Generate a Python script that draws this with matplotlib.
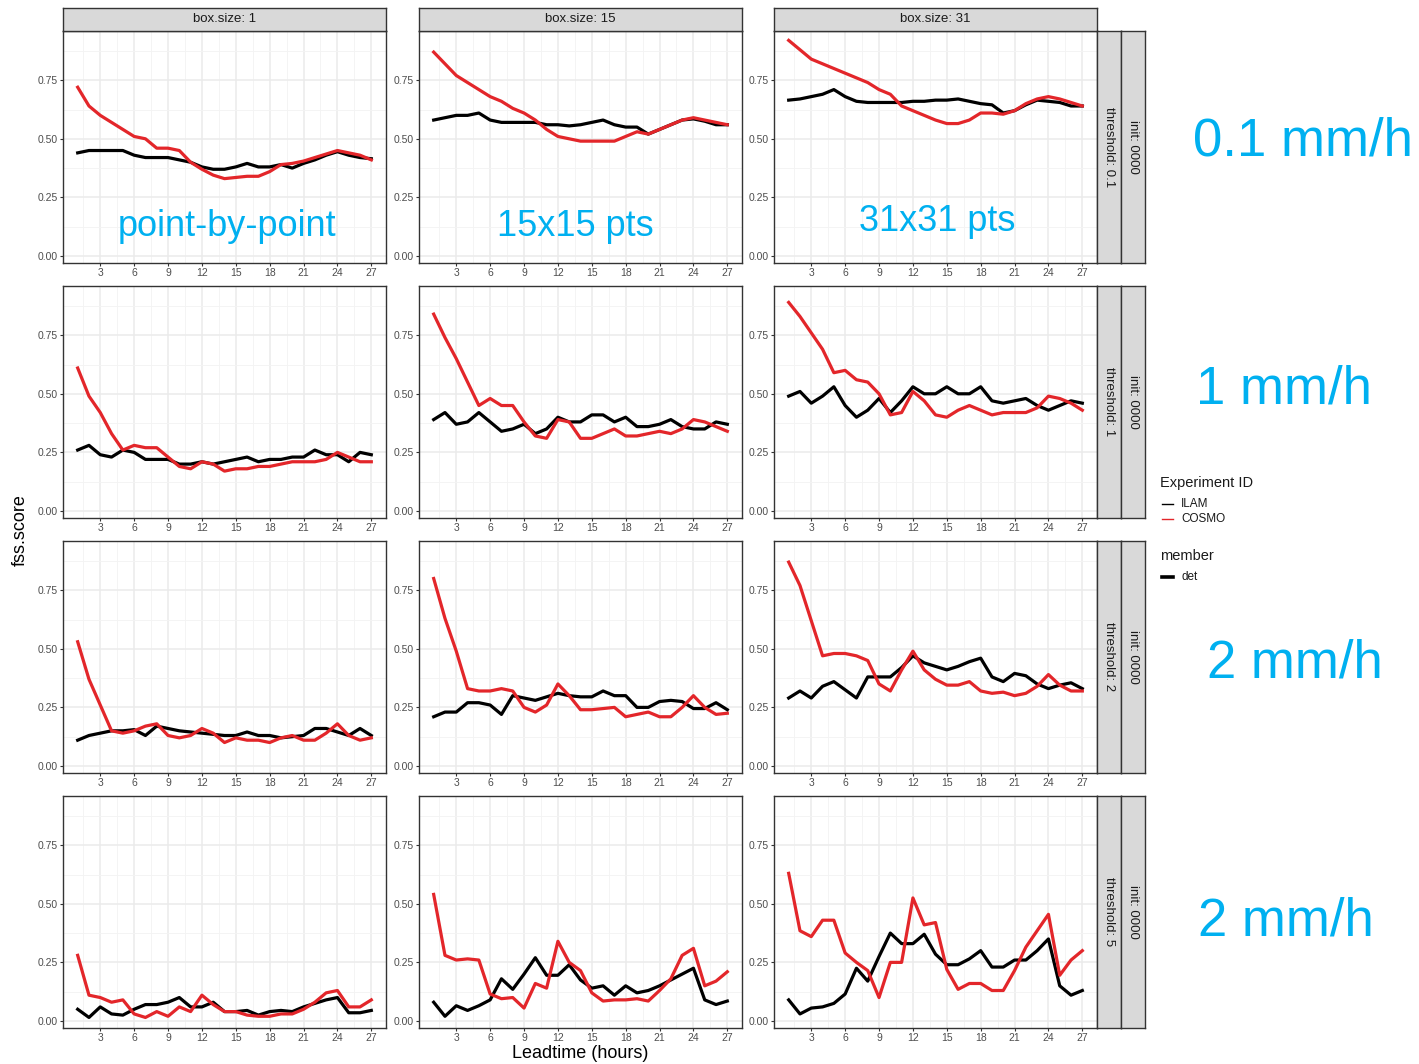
import numpy as np
import matplotlib
matplotlib.use("Agg")
import matplotlib.pyplot as plt
from matplotlib.lines import Line2D

plt.rcParams["font.family"] = ["Liberation Sans", "DejaVu Sans"]

# ---------------------------------------------------------------- data
leadtime = list(range(1, 28))
box_sizes = [1, 15, 31]
thresholds = [0.1, 1, 2, 5]
experiments = ["ILAM", "COSMO"]
box_notes = ["point-by-point", "15x15 pts", "31x31 pts"]
threshold_notes = ["0.1 mm/h", "1 mm/h", "2 mm/h", "2 mm/h"]
y_breaks = [0.0, 0.25, 0.50, 0.75]
x_breaks = list(range(3, 28, 3))

# threshold 0.1
ilam_t01_b1 = [0.44, 0.45, 0.45, 0.45, 0.45, 0.43, 0.42, 0.42, 0.42, 0.41, 0.40, 0.38, 0.37, 0.37,
               0.38, 0.395, 0.38, 0.38, 0.39, 0.375, 0.395, 0.41, 0.43, 0.445, 0.43, 0.42, 0.415]
cosmo_t01_b1 = [0.72, 0.64, 0.60, 0.57, 0.54, 0.51, 0.50, 0.46, 0.46, 0.45, 0.40, 0.37, 0.345, 0.33,
                0.335, 0.34, 0.34, 0.36, 0.39, 0.395, 0.405, 0.42, 0.435, 0.45, 0.44, 0.43, 0.41]
ilam_t01_b15 = [0.58, 0.59, 0.60, 0.60, 0.61, 0.58, 0.57, 0.57, 0.57, 0.57, 0.56, 0.56, 0.555, 0.56,
                0.57, 0.58, 0.56, 0.55, 0.55, 0.52, 0.54, 0.56, 0.58, 0.585, 0.575, 0.56, 0.56]
cosmo_t01_b15 = [0.87, 0.82, 0.77, 0.74, 0.71, 0.68, 0.66, 0.63, 0.61, 0.58, 0.54, 0.51, 0.50, 0.49,
                 0.49, 0.49, 0.49, 0.51, 0.53, 0.52, 0.54, 0.56, 0.58, 0.59, 0.58, 0.57, 0.56]
ilam_t01_b31 = [0.665, 0.67, 0.68, 0.69, 0.71, 0.68, 0.66, 0.655, 0.655, 0.655, 0.655, 0.66, 0.66, 0.665,
                0.665, 0.67, 0.66, 0.65, 0.645, 0.61, 0.62, 0.645, 0.665, 0.66, 0.655, 0.64, 0.64]
cosmo_t01_b31 = [0.92, 0.88, 0.84, 0.82, 0.80, 0.78, 0.76, 0.74, 0.71, 0.69, 0.64, 0.62, 0.60, 0.58,
                 0.565, 0.565, 0.58, 0.61, 0.61, 0.605, 0.62, 0.65, 0.67, 0.68, 0.67, 0.655, 0.64]

# threshold 1
ilam_t1_b1 = [0.26, 0.28, 0.24, 0.23, 0.26, 0.25, 0.22, 0.22, 0.22, 0.20, 0.20, 0.21, 0.20, 0.21,
              0.22, 0.23, 0.21, 0.22, 0.22, 0.23, 0.23, 0.26, 0.24, 0.24, 0.21, 0.25, 0.24]
cosmo_t1_b1 = [0.61, 0.49, 0.42, 0.33, 0.26, 0.28, 0.27, 0.27, 0.23, 0.19, 0.18, 0.21, 0.20, 0.17,
               0.18, 0.18, 0.19, 0.19, 0.20, 0.21, 0.21, 0.21, 0.22, 0.25, 0.23, 0.21, 0.21]
ilam_t1_b15 = [0.39, 0.42, 0.37, 0.38, 0.42, 0.38, 0.34, 0.35, 0.37, 0.33, 0.35, 0.40, 0.38, 0.38,
               0.41, 0.41, 0.38, 0.40, 0.36, 0.36, 0.37, 0.39, 0.36, 0.35, 0.35, 0.38, 0.37]
cosmo_t1_b15 = [0.84, 0.74, 0.65, 0.55, 0.45, 0.48, 0.45, 0.45, 0.38, 0.32, 0.31, 0.39, 0.38, 0.31,
                0.31, 0.33, 0.35, 0.32, 0.32, 0.33, 0.34, 0.33, 0.35, 0.39, 0.38, 0.36, 0.34]
ilam_t1_b31 = [0.49, 0.51, 0.46, 0.49, 0.53, 0.45, 0.40, 0.43, 0.48, 0.42, 0.47, 0.53, 0.50, 0.50,
               0.53, 0.50, 0.50, 0.53, 0.47, 0.46, 0.47, 0.48, 0.45, 0.43, 0.45, 0.47, 0.46]
cosmo_t1_b31 = [0.89, 0.83, 0.76, 0.69, 0.59, 0.60, 0.56, 0.55, 0.50, 0.41, 0.42, 0.51, 0.47, 0.41,
                0.40, 0.43, 0.45, 0.43, 0.41, 0.42, 0.42, 0.42, 0.44, 0.49, 0.48, 0.46, 0.43]

# threshold 2
ilam_t2_b1 = [0.11, 0.13, 0.14, 0.15, 0.15, 0.155, 0.13, 0.17, 0.16, 0.15, 0.145, 0.14, 0.135, 0.13,
              0.13, 0.145, 0.13, 0.13, 0.12, 0.125, 0.13, 0.16, 0.16, 0.145, 0.13, 0.16, 0.13]
cosmo_t2_b1 = [0.53, 0.37, 0.26, 0.15, 0.14, 0.15, 0.17, 0.18, 0.13, 0.12, 0.13, 0.16, 0.14, 0.10,
               0.12, 0.11, 0.11, 0.10, 0.12, 0.13, 0.11, 0.11, 0.14, 0.18, 0.13, 0.11, 0.12]
ilam_t2_b15 = [0.21, 0.23, 0.23, 0.27, 0.27, 0.26, 0.22, 0.30, 0.29, 0.28, 0.295, 0.31, 0.30, 0.295,
               0.295, 0.32, 0.30, 0.30, 0.25, 0.25, 0.275, 0.28, 0.275, 0.245, 0.245, 0.27, 0.24]
cosmo_t2_b15 = [0.80, 0.63, 0.49, 0.33, 0.32, 0.32, 0.33, 0.32, 0.25, 0.23, 0.26, 0.35, 0.30, 0.24,
                0.24, 0.245, 0.25, 0.21, 0.22, 0.23, 0.21, 0.21, 0.25, 0.30, 0.25, 0.22, 0.225]
ilam_t2_b31 = [0.29, 0.32, 0.29, 0.34, 0.36, 0.325, 0.29, 0.38, 0.38, 0.38, 0.42, 0.47, 0.44, 0.425,
               0.41, 0.425, 0.445, 0.46, 0.38, 0.36, 0.395, 0.385, 0.35, 0.33, 0.345, 0.355, 0.33]
cosmo_t2_b31 = [0.87, 0.77, 0.62, 0.47, 0.48, 0.48, 0.47, 0.45, 0.35, 0.32, 0.41, 0.49, 0.41, 0.37,
                0.345, 0.345, 0.36, 0.32, 0.31, 0.315, 0.30, 0.31, 0.34, 0.39, 0.345, 0.32, 0.32]

# threshold 5
ilam_t5_b1 = [0.05, 0.015, 0.06, 0.03, 0.025, 0.05, 0.07, 0.07, 0.08, 0.10, 0.06, 0.06, 0.08, 0.04,
              0.04, 0.045, 0.025, 0.04, 0.045, 0.04, 0.06, 0.075, 0.09, 0.10, 0.035, 0.035, 0.045]
cosmo_t5_b1 = [0.28, 0.11, 0.10, 0.08, 0.09, 0.03, 0.015, 0.04, 0.02, 0.06, 0.04, 0.11, 0.07, 0.04,
               0.04, 0.025, 0.02, 0.02, 0.03, 0.03, 0.05, 0.08, 0.12, 0.13, 0.06, 0.06, 0.09]
ilam_t5_b15 = [0.08, 0.02, 0.065, 0.045, 0.065, 0.09, 0.18, 0.135, 0.20, 0.27, 0.195, 0.195, 0.24, 0.175,
               0.14, 0.15, 0.11, 0.15, 0.12, 0.13, 0.15, 0.175, 0.20, 0.225, 0.09, 0.07, 0.085]
cosmo_t5_b15 = [0.54, 0.28, 0.26, 0.265, 0.26, 0.115, 0.095, 0.10, 0.055, 0.16, 0.14, 0.34, 0.25, 0.215,
                0.12, 0.085, 0.09, 0.09, 0.095, 0.085, 0.13, 0.18, 0.28, 0.31, 0.15, 0.17, 0.21]
ilam_t5_b31 = [0.09, 0.03, 0.055, 0.06, 0.075, 0.115, 0.225, 0.17, 0.275, 0.375, 0.33, 0.33, 0.37, 0.285,
               0.24, 0.24, 0.265, 0.30, 0.23, 0.23, 0.26, 0.26, 0.30, 0.35, 0.15, 0.11, 0.13]
cosmo_t5_b31 = [0.63, 0.385, 0.36, 0.43, 0.43, 0.29, 0.25, 0.215, 0.10, 0.25, 0.25, 0.525, 0.41, 0.42,
                0.22, 0.135, 0.16, 0.16, 0.13, 0.13, 0.215, 0.315, 0.385, 0.455, 0.195, 0.26, 0.30]

scores = {
    (0.1, 1): (ilam_t01_b1, cosmo_t01_b1),
    (0.1, 15): (ilam_t01_b15, cosmo_t01_b15),
    (0.1, 31): (ilam_t01_b31, cosmo_t01_b31),
    (1, 1): (ilam_t1_b1, cosmo_t1_b1),
    (1, 15): (ilam_t1_b15, cosmo_t1_b15),
    (1, 31): (ilam_t1_b31, cosmo_t1_b31),
    (2, 1): (ilam_t2_b1, cosmo_t2_b1),
    (2, 15): (ilam_t2_b15, cosmo_t2_b15),
    (2, 31): (ilam_t2_b31, cosmo_t2_b31),
    (5, 1): (ilam_t5_b1, cosmo_t5_b1),
    (5, 15): (ilam_t5_b15, cosmo_t5_b15),
    (5, 31): (ilam_t5_b31, cosmo_t5_b31),
}

# ---------------------------------------------------------------- style
exp_colors = {"ILAM": "#000000", "COSMO": "#E3262A"}
note_color = "#00B0F0"
strip_fill = "#D9D9D9"
frame_color = "#333333"
tick_text = "#4D4D4D"

W, H = 1419, 1064
fig = plt.figure(figsize=(W / 100, H / 100), dpi=100)
fig.patch.set_facecolor("white")


def rect(x, y, w, h):
    return [x / W, 1 - (y + h) / H, w / W, h / H]


def fx(x):
    return x / W


def fy(y):
    return 1 - y / H


col_left = [63, 419, 774]
row_top = [31, 286, 541, 796]
pw, ph = 323, 232


def strip(x, y, w, h, label, rotation=0):
    s = fig.add_axes(rect(x, y, w, h))
    s.set_facecolor(strip_fill)
    s.set_xticks([])
    s.set_yticks([])
    for sp in s.spines.values():
        sp.set_color(frame_color)
        sp.set_linewidth(1.0)
    s.text(0.5, 0.5, label, transform=s.transAxes, ha="center", va="center",
           rotation=rotation, fontsize=9.5, color="#1A1A1A")
    return s


for r, thr in enumerate(thresholds):
    for c, bs in enumerate(box_sizes):
        ax = fig.add_axes(rect(col_left[c], row_top[r], pw, ph))
        ax.set_xlim(-0.3, 28.3)
        ax.set_ylim(-0.03, 0.96)
        ax.set_xticks(x_breaks)
        ax.set_xticks(np.arange(1.5, 28, 3), minor=True)
        ax.set_yticks(y_breaks)
        ax.set_yticks([0.125, 0.375, 0.625, 0.875], minor=True)
        ax.set_yticklabels([f"{v:.2f}" for v in y_breaks])
        ax.grid(which="major", color="#EBEBEB", lw=1.1)
        ax.grid(which="minor", color="#F3F3F3", lw=0.6)
        ax.set_axisbelow(True)
        ax.tick_params(which="major", length=2.2, width=0.8, color=frame_color,
                       labelsize=7.5, labelcolor=tick_text, pad=1.5)
        ax.tick_params(which="minor", length=0)
        for sp in ax.spines.values():
            sp.set_color(frame_color)
            sp.set_linewidth(1.0)

        ilam, cosmo = scores[(thr, bs)]
        ax.plot(leadtime, ilam, color=exp_colors["ILAM"], lw=2.3, solid_joinstyle="round")
        ax.plot(leadtime, cosmo, color=exp_colors["COSMO"], lw=2.3, solid_joinstyle="round")

        if r == 0:
            strip(col_left[c], 8, pw, 23, f"box.size: {bs}")

    strip(1097, row_top[r], 24, ph, f"threshold: {thr:g}", rotation=-90)
    strip(1121, row_top[r], 24, ph, "init: 0000", rotation=-90)

# axis titles
fig.text(fx(580), fy(1054), "Leadtime (hours)", ha="center", va="center",
         fontsize=13, color="black")
fig.text(fx(20), fy(530), "fss.score", ha="center", va="center", rotation=90,
         fontsize=13, color="black")

# legend
fig.text(fx(1160), fy(483), "Experiment ID", ha="left", va="center", fontsize=10.5, color="#1A1A1A")
for i, name in enumerate(experiments):
    yy = fy(504 + 15 * i)
    fig.add_artist(Line2D([fx(1162), fx(1173)], [yy, yy], color=exp_colors[name],
                          lw=1.0, transform=fig.transFigure))
    fig.text(fx(1181), yy, name, ha="left", va="center", fontsize=8.5, color="#1A1A1A")
fig.text(fx(1160), fy(556), "member", ha="left", va="center", fontsize=10.5, color="#1A1A1A")
yy = fy(577)
fig.add_artist(Line2D([fx(1162), fx(1173)], [yy, yy], color="black", lw=2.6,
                      transform=fig.transFigure))
fig.text(fx(1181), yy, "det", ha="left", va="center", fontsize=8.5, color="#1A1A1A")

# box-size notes inside the first row of panels
note_x = [227, 575, 937]
note_base = [236, 236, 231]
for label, x, y in zip(box_notes, note_x, note_base):
    fig.text(fx(x), fy(y), label, ha="center", va="baseline", fontsize=26, color=note_color)

# threshold notes on the right
thr_x = [1193, 1196, 1207, 1198]
thr_base = [156, 404, 678, 935]
for label, x, y in zip(threshold_notes, thr_x, thr_base):
    fig.text(fx(x), fy(y), label, ha="left", va="baseline", fontsize=38, color=note_color)

fig.savefig("out.png", dpi=100, facecolor="white")
